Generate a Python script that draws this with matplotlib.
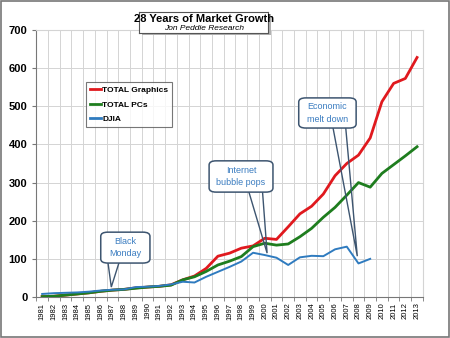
import matplotlib
matplotlib.use("Agg")
from matplotlib import pyplot as plt
from matplotlib.patches import FancyBboxPatch, Polygon, Rectangle

plt.rcParams['font.family'] = ['Liberation Sans', 'DejaVu Sans']

years = list(range(1981, 2014))
graphics = [1, 2, 5, 8, 11, 15, 18, 20, 24, 26, 28, 32, 45, 55, 75, 107, 115, 128, 134, 154,
            151, 184, 218, 238, 270, 318, 350, 372, 417, 512, 560, 573, 628]
pcs = [1, 2, 5, 8, 11, 15, 18, 20, 23, 26, 28, 31, 45, 53, 67, 84, 94, 106, 132, 141,
       136, 139, 158, 180, 209, 235, 267, 300, 288, 324, 347, 370, 394]
djia = [8, 10, 11, 12, 14, 17, 19, 20, 26, 27, 29, 33, 40, 38, 53, 66, 79, 93, 116, 110,
        103, 84, 104, 108, 107, 125, 132, 88, 100]
djia_years = years[:len(djia)]

# callouts: text, box (x0, x1, y0, y1) in data units, pointer base x's, tip
callouts = [
    ("Black\nMonday", (1986.0, 1990.2, 89, 170), (1986.6, 1987.6), (1986.9, 26)),
    ("Internet\nbubble pops", (1995.25, 2000.7, 275, 357), (1998.6, 1999.8), (2000.2, 115)),
    ("Economic\nmelt down", (2002.9, 2007.8, 443, 522), (2005.8, 2006.9), (2007.9, 107)),
]

fig = plt.figure(figsize=(4.5, 3.38), dpi=100)
ax = fig.add_axes([0.0807, 0.1213, 0.8591, 0.7899])

ax.plot(years, graphics, color='#e0191e', lw=2, label='TOTAL Graphics', zorder=3)
ax.plot(years, pcs, color='#1e7d1e', lw=2, label='TOTAL PCs', zorder=3)
ax.plot(djia_years, djia, color='#2f7bbf', lw=1.4, label='DJIA', zorder=3)

ax.set_xlim(1980.5, 2013.5)
ax.set_ylim(0, 700)
ax.set_yticks(range(0, 701, 100))
ax.set_xticks(years)
ax.set_xticklabels([str(y) for y in years], rotation=90, fontsize=5.5)
ax.set_xticks([y - 0.5 for y in years] + [2013.5], minor=True)
ax.tick_params(axis='x', which='major', length=0, pad=4)
ax.tick_params(axis='x', which='minor', length=3, color='#777777')
ax.tick_params(axis='y', length=3, color='#777777', labelsize=8)
for lab in ax.get_yticklabels():
    lab.set_fontweight('bold')
ax.grid(True, axis='y', color='#d4d4d4', lw=0.7)
ax.grid(True, axis='x', which='minor', color='#d4d4d4', lw=0.7)
ax.set_axisbelow(True)
for side in ['top', 'right']:
    ax.spines[side].set_color('#d4d4d4')
for side in ['left', 'bottom']:
    ax.spines[side].set_color('#777777')

leg = ax.legend(loc='upper left', bbox_to_anchor=(0.191, 0.757), bbox_transform=fig.transFigure,
                borderaxespad=0, fancybox=False, handlelength=1.3, handletextpad=0.15,
                labelspacing=0.8, borderpad=0.5, prop={'size': 6, 'weight': 'bold'})
leg.get_frame().set_edgecolor('#555555')
leg.get_frame().set_linewidth(0.8)
for h in leg.get_lines():
    h.set_linewidth(2)

for text, (x0, x1, y0, y1), (b0, b1), tip in callouts:
    ax.add_patch(Polygon([(b0, y0 + 5), tip, (b1, y0 + 5)], closed=False, fill=False,
                         edgecolor='#3d5570', lw=1, zorder=5))
    ax.add_patch(FancyBboxPatch((x0, y0), x1 - x0, y1 - y0,
                                boxstyle='round,pad=0,rounding_size=0.6',
                                mutation_aspect=18, facecolor='white',
                                edgecolor='#3d5570', lw=1.1, zorder=6))
    ax.text((x0 + x1) / 2, (y0 + y1) / 2, text, ha='center', va='center',
            fontsize=6.5, color='#3a7cc0', linespacing=1.5, zorder=7)

# title box (shadow + framed box as its own small axes)
shadow = fig.add_axes([0.316, 0.896, 0.287, 0.062])
shadow.set_facecolor('#b0b0b0')
shadow.set_xticks([])
shadow.set_yticks([])
for s in shadow.spines.values():
    s.set_visible(False)
tax = fig.add_axes([0.309, 0.902, 0.287, 0.062])
tax.set_xticks([])
tax.set_yticks([])
for s in tax.spines.values():
    s.set_color('#555555')
    s.set_linewidth(0.8)
tax.text(0.5, 0.66, '28 Years of Market Growth', ha='center', va='center',
         fontsize=8, fontweight='bold', transform=tax.transAxes)
tax.text(0.5, 0.24, 'Jon Peddie Research', ha='center', va='center',
         fontsize=6, style='italic', transform=tax.transAxes)

# outer frame
fig.patches.append(Rectangle((0.002, 0.002), 0.996, 0.996, transform=fig.transFigure,
                             fill=False, edgecolor='#777777', lw=1.2))

plt.savefig('out.png', dpi=100)
